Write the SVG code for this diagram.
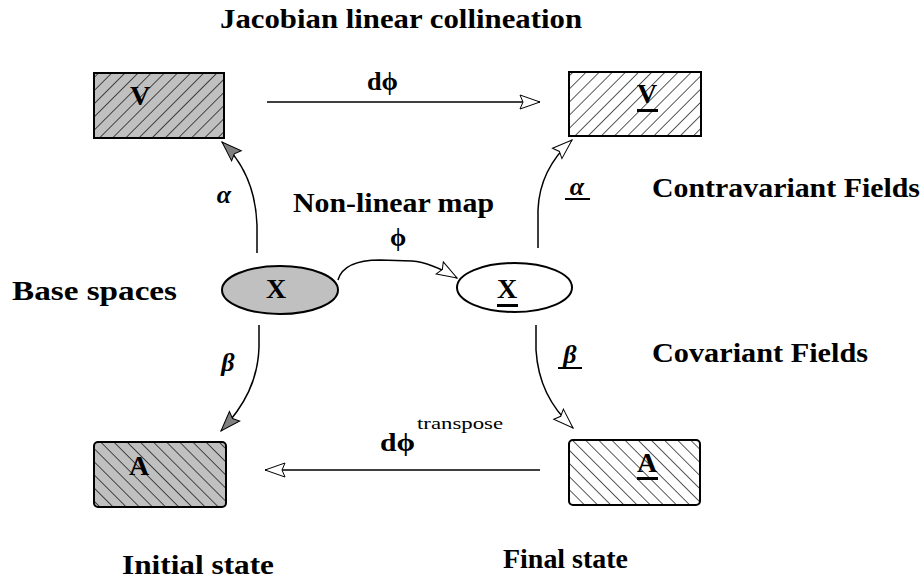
<svg xmlns="http://www.w3.org/2000/svg" width="924" height="586" viewBox="0 0 924 586">
<style>
  .t { font-family: "Liberation Serif", "Times New Roman", serif; font-weight: bold; fill: #000; }
  .lbl { font-size: 27px; }
  .node { font-size: 28px; text-anchor: middle; }
  .gr { font-size: 26px; font-style: italic; }
  .sup { font-family: "Liberation Serif", "Times New Roman", serif; font-weight: normal; font-size: 17px; fill: #000; }
  .box { stroke: #000; stroke-width: 2; }
  .conn { fill: none; stroke: #000; stroke-width: 1.5; }
  .ul { fill: #000; }
</style>
<defs>
  <pattern id="hatchF" patternUnits="userSpaceOnUse" width="9.3" height="20" patternTransform="rotate(45)">
    <line x1="0" y1="0" x2="0" y2="20" stroke="#000" stroke-width="1.3"/>
  </pattern>
  <pattern id="hatchB" patternUnits="userSpaceOnUse" width="9.3" height="20" patternTransform="rotate(-45)">
    <line x1="0" y1="0" x2="0" y2="20" stroke="#000" stroke-width="1.3"/>
  </pattern>
  <marker id="arrGray" markerUnits="userSpaceOnUse" markerWidth="24" markerHeight="18" refX="21" refY="8" orient="auto">
    <path d="M1,1 L21,8 L1,15 L4,8 Z" fill="#808080" stroke="#000" stroke-width="1"/>
  </marker>
  <marker id="arrOpen" markerUnits="userSpaceOnUse" markerWidth="24" markerHeight="18" refX="21" refY="8" orient="auto">
    <path d="M1,1 L21,8 L1,15 L4,8 Z" fill="#fff" stroke="#000" stroke-width="1"/>
  </marker>
</defs>
<rect width="924" height="586" fill="#fff"/>

<text class="t lbl" x="220" y="28" textLength="362" lengthAdjust="spacingAndGlyphs">Jacobian linear collineation</text>
<text class="t lbl" x="12" y="300" textLength="165" lengthAdjust="spacingAndGlyphs">Base spaces</text>
<text class="t lbl" x="293" y="212" textLength="201" lengthAdjust="spacingAndGlyphs">Non-linear map</text>
<text class="t lbl" x="652" y="197" textLength="268" lengthAdjust="spacingAndGlyphs">Contravariant Fields</text>
<text class="t lbl" x="652" y="362" textLength="216" lengthAdjust="spacingAndGlyphs">Covariant Fields</text>
<text class="t lbl" x="122" y="574" textLength="152" lengthAdjust="spacingAndGlyphs">Initial state</text>
<text class="t lbl" x="503" y="568" textLength="125" lengthAdjust="spacingAndGlyphs">Final state</text>

<g id="connectors">
  <g id="dphi">
    <line class="conn" x1="267" y1="102" x2="540" y2="102" marker-end="url(#arrOpen)"/>
    <text class="t" x="367" y="90" font-size="26" textLength="31" lengthAdjust="spacingAndGlyphs">dϕ</text>
  </g>
  <g id="dphiT">
    <line class="conn" x1="540" y1="470" x2="265" y2="470" marker-end="url(#arrOpen)"/>
    <text class="t" x="380" y="451" font-size="26" textLength="35" lengthAdjust="spacingAndGlyphs">dϕ</text>
    <text class="sup" x="417" y="429" textLength="86" lengthAdjust="spacingAndGlyphs">transpose</text>
  </g>
  <g id="phi">
    <path class="conn" d="M338,280 C342,266 358,260 380,260 L412,261 C425,262 440,268 457,278" marker-end="url(#arrOpen)"/>
    <text class="t" x="398" y="246" font-size="26" text-anchor="middle">ϕ</text>
  </g>
  <g id="alphaL">
    <path class="conn" d="M257,253 L257,225 C256,195 246,165 222,142" marker-end="url(#arrGray)"/>
    <text class="t gr" x="224" y="203" text-anchor="middle">α</text>
  </g>
  <g id="alphaR">
    <path class="conn" d="M538,248 L538,210 C539,182 550,160 572,140" marker-end="url(#arrOpen)"/>
    <text class="t gr" x="577" y="195" text-anchor="middle">α</text>
    <rect class="ul" x="565" y="198" width="25" height="2"/>
  </g>
  <g id="betaL">
    <path class="conn" d="M259,325 L259,347 C258,380 245,405 221,431" marker-end="url(#arrGray)"/>
    <text class="t gr" x="228" y="371" text-anchor="middle">β</text>
  </g>
  <g id="betaR">
    <path class="conn" d="M536,325 L536,350 C538,382 550,406 573,428" marker-end="url(#arrOpen)"/>
    <text class="t gr" x="570" y="363" text-anchor="middle">β</text>
    <rect class="ul" x="558" y="367" width="24" height="2"/>
  </g>
</g>

<g id="node-V">
  <rect x="94" y="73" width="130" height="65" fill="#c0c0c0"/>
  <rect class="box" x="94" y="73" width="130" height="65" fill="url(#hatchF)"/>
  <text class="t node" x="140" y="105">V</text>
</g>
<g id="node-V2">
  <rect x="569" y="72" width="132" height="64" fill="#fff"/>
  <rect class="box" x="569" y="72" width="132" height="64" fill="url(#hatchF)"/>
  <text class="t node" x="647" y="103">V</text>
  <rect class="ul" x="637" y="109" width="21" height="3"/>
</g>
<g id="node-A">
  <rect x="94" y="442" width="132" height="65" rx="4" fill="#c0c0c0"/>
  <rect class="box" x="94" y="442" width="132" height="65" rx="4" fill="url(#hatchB)"/>
  <text class="t node" x="139" y="475">A</text>
</g>
<g id="node-A2">
  <rect x="569" y="440" width="131" height="65" rx="4" fill="#fff"/>
  <rect class="box" x="569" y="440" width="131" height="65" rx="4" fill="url(#hatchB)"/>
  <text class="t node" x="647" y="472">A</text>
  <rect class="ul" x="637" y="477" width="21" height="3"/>
</g>
<g id="node-X">
  <ellipse class="box" cx="280" cy="290" rx="58" ry="24" fill="#c0c0c0" stroke-width="1.5"/>
  <text class="t node" x="276" y="298">X</text>
</g>
<g id="node-X2">
  <ellipse class="box" cx="514.5" cy="287.5" rx="57.5" ry="24.5" fill="#fff" stroke-width="1.5"/>
  <text class="t node" x="507" y="298">X</text>
  <rect class="ul" x="497" y="304" width="21" height="3"/>
</g>
</svg>
